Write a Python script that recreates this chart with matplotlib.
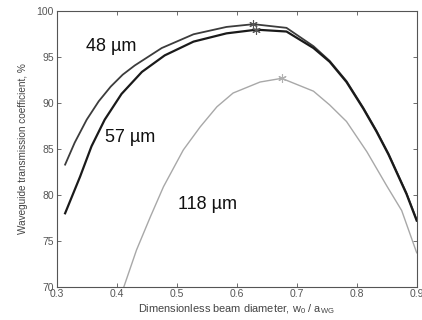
import matplotlib
matplotlib.use("Agg")
import matplotlib.pyplot as plt

plt.rcParams["font.family"] = ["Liberation Sans", "DejaVu Sans"]
plt.rcParams["mathtext.fontset"] = "custom"
plt.rcParams["mathtext.rm"] = "Liberation Sans"
plt.rcParams["mathtext.it"] = "Liberation Sans"

# Data
x48 = [0.314, 0.33, 0.35, 0.37, 0.39, 0.41, 0.43, 0.475, 0.528, 0.583, 0.628, 0.683, 0.728, 0.755, 0.783, 0.811, 0.833, 0.853, 0.883, 0.9]
y48 = [83.3, 85.7, 88.2, 90.2, 91.8, 93.1, 94.1, 96.0, 97.5, 98.3, 98.6, 98.2, 96.2, 94.6, 92.4, 89.5, 87.0, 84.5, 80.2, 77.3]

x57 = [0.314, 0.339, 0.358, 0.38, 0.408, 0.442, 0.48, 0.528, 0.583, 0.633, 0.683, 0.728, 0.755, 0.783, 0.811, 0.833, 0.853, 0.883, 0.9]
y57 = [78.0, 82.0, 85.3, 88.2, 91.0, 93.4, 95.2, 96.7, 97.6, 98.0, 97.8, 96.0, 94.5, 92.3, 89.4, 86.9, 84.4, 80.1, 77.2]

x118 = [0.412, 0.433, 0.456, 0.478, 0.511, 0.539, 0.567, 0.594, 0.639, 0.675, 0.728, 0.755, 0.783, 0.817, 0.85, 0.875, 0.9]
y118 = [70.0, 74.0, 77.6, 80.9, 84.9, 87.4, 89.6, 91.1, 92.3, 92.7, 91.3, 89.8, 88.0, 84.7, 81.0, 78.3, 73.7]

peak_x = [0.628, 0.633, 0.675]
peak_y = [98.6, 98.0, 92.7]

labels = ["48 µm", "57 µm", "118 µm"]
label_pos = [(0.39, 96.2), (0.423, 86.3), (0.551, 79.0)]

xticks = [0.3, 0.4, 0.5, 0.6, 0.7, 0.8, 0.9]
yticks = [70, 75, 80, 85, 90, 95, 100]

fig = plt.figure(figsize=(4.22, 3.2), dpi=100)
ax = fig.add_axes([0.1344, 0.104, 0.853, 0.8606])

ax.plot(x48, y48, color="#3c3c3c", lw=1.3)
ax.plot(x57, y57, color="#1a1a1a", lw=1.6)
ax.plot(x118, y118, color="#a8a8a8", lw=1.0)
asterisk = (6, 2, 0)
ax.plot(peak_x[:2], peak_y[:2], linestyle="none", marker=asterisk, ms=6, color="#555555", mew=0.8)
ax.plot(peak_x[2:], peak_y[2:], linestyle="none", marker=asterisk, ms=6, color="#b0b0b0", mew=0.8)

for t, (tx, ty) in zip(labels, label_pos):
    ax.text(tx, ty, t, fontsize=13, color="#111111", ha="center", va="center")

ax.set_xlim(0.3, 0.9)
ax.set_ylim(70, 100)
ax.set_xticks(xticks)
ax.set_yticks(yticks)
ax.set_xticklabels([f"{v:.1f}" for v in xticks])
ax.set_yticklabels([str(v) for v in yticks])
ax.tick_params(direction="in", length=3, width=0.6, top=True, right=True,
               labelsize=7.5, colors="#555555", pad=2)
for s in ax.spines.values():
    s.set_color("#555555")
    s.set_linewidth(0.8)

ax.set_xlabel("Dimensionless beam diameter, w$_0$ / a$_{WG}$", fontsize=7.9, color="#444444", labelpad=2)
ax.set_ylabel("Waveguide transmission coefficient, %", fontsize=7.2, color="#444444", labelpad=6)

fig.savefig("out.png", dpi=100)
